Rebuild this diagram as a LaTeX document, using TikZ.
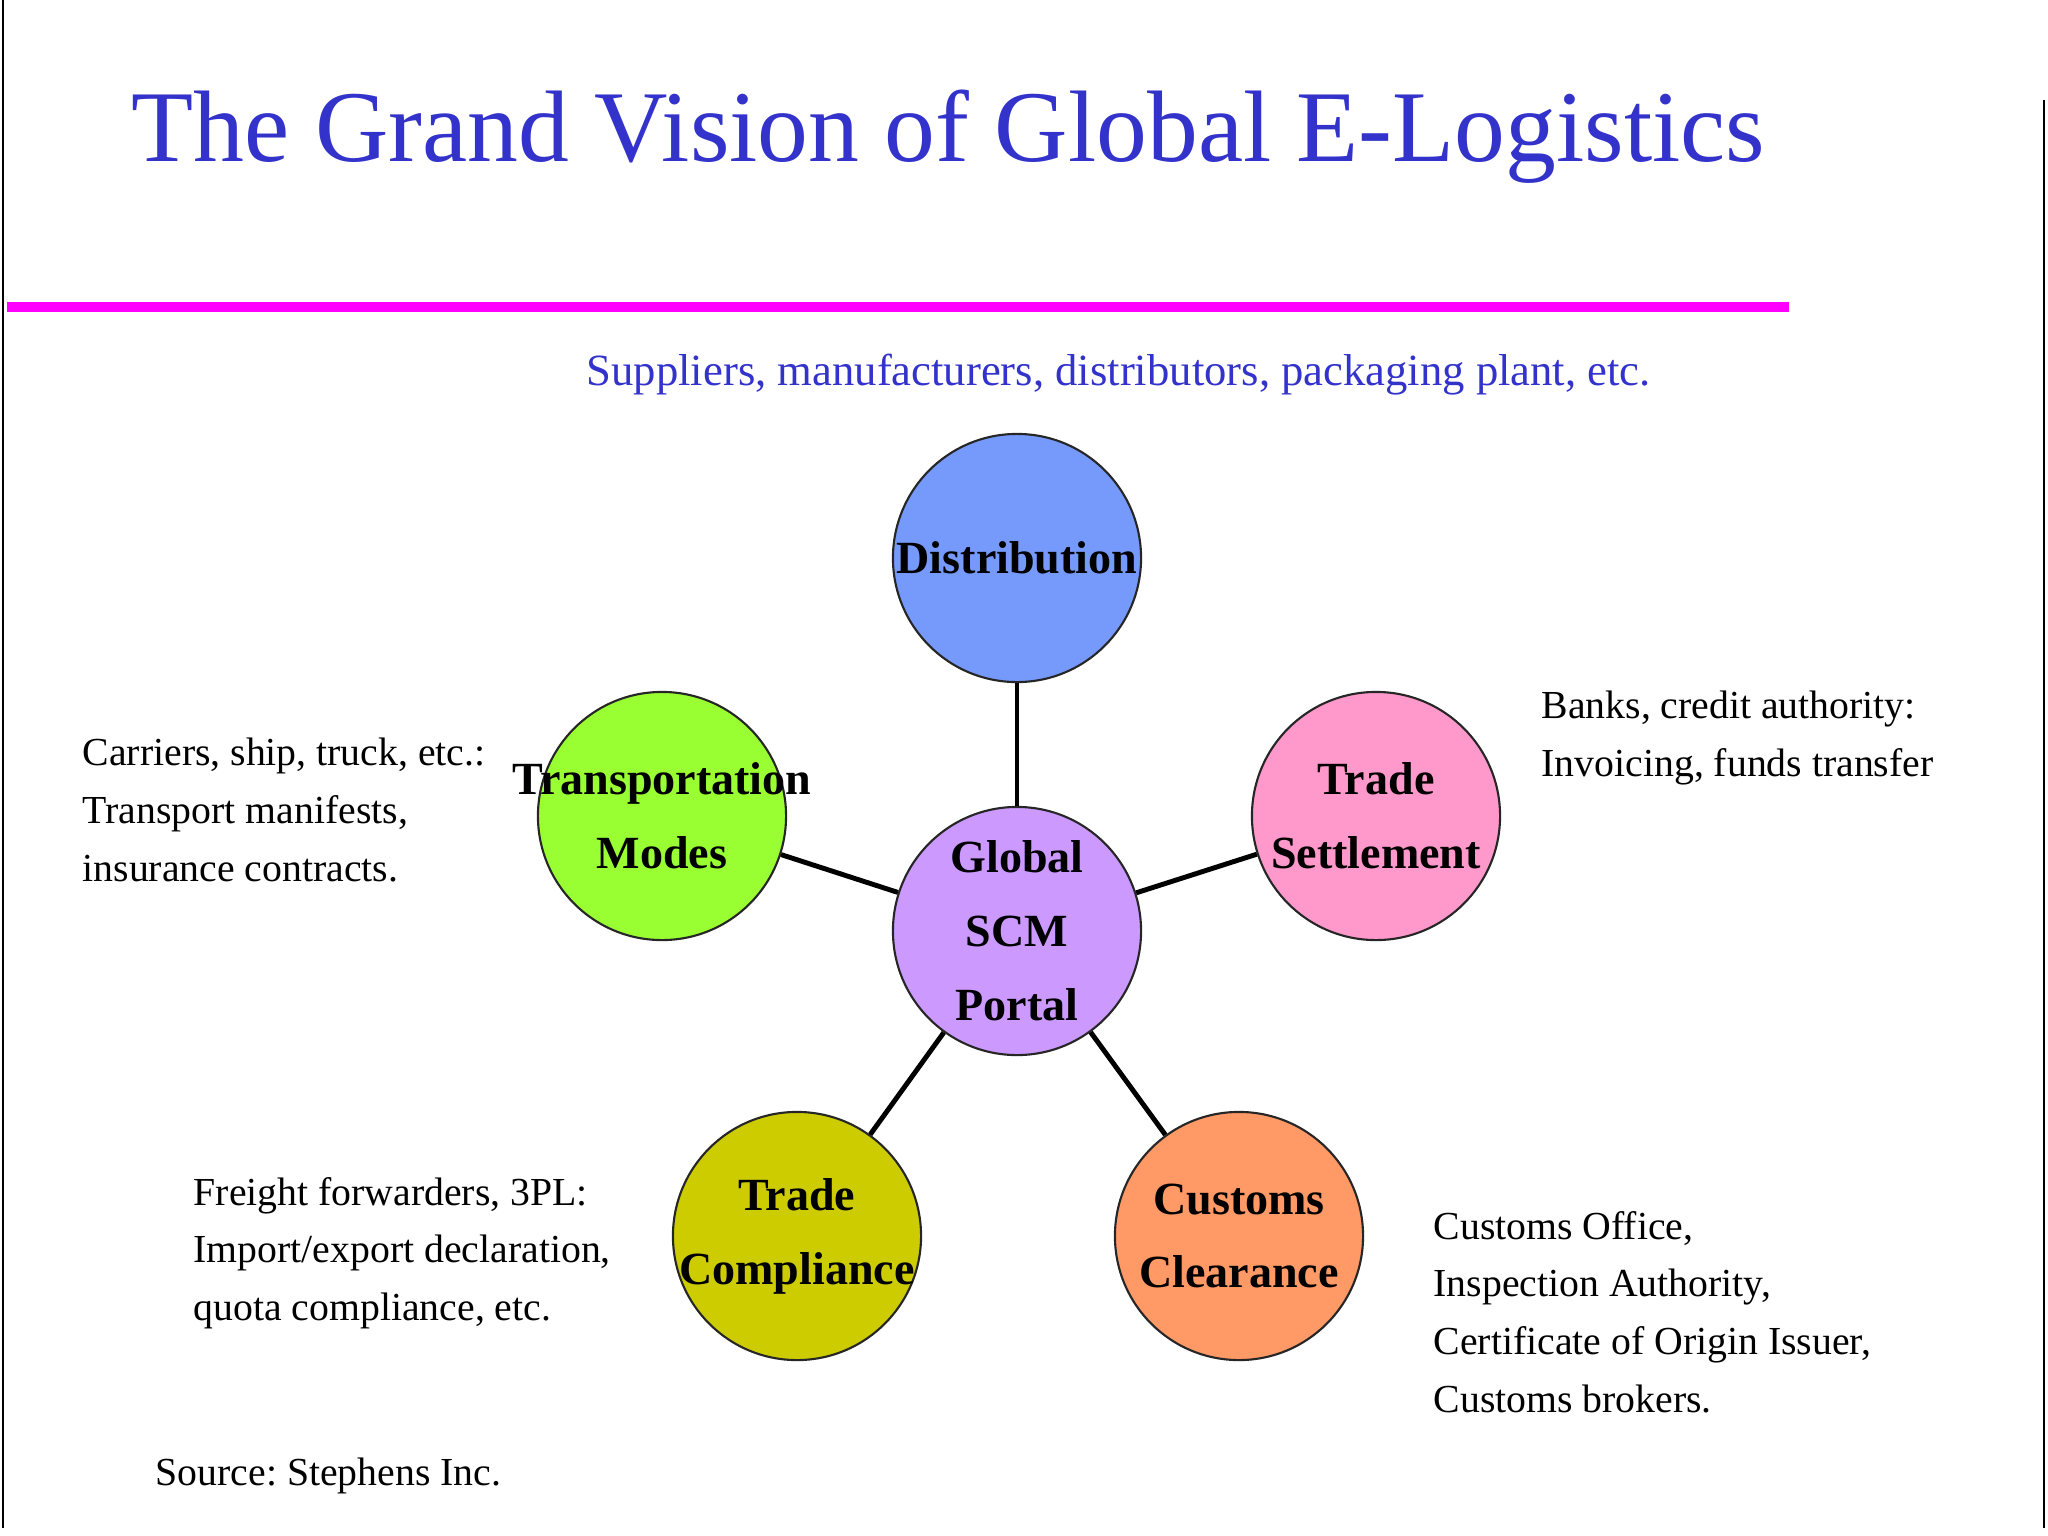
\documentclass[tikz,border=0pt]{standalone}
\usepackage{fontspec}
\setmainfont{Liberation Serif}
\usepackage{xcolor}
\usepackage{tikz}
\usetikzlibrary{positioning}
\frenchspacing
\definecolor{titleblue}{RGB}{51,51,204}
\definecolor{rulemagenta}{RGB}{255,0,255}
\definecolor{portalpurple}{RGB}{204,153,255}
\definecolor{distblue}{RGB}{118,153,252}
\definecolor{transgreen}{RGB}{153,255,51}
\definecolor{settlepink}{RGB}{255,153,204}
\definecolor{complyolive}{RGB}{204,204,0}
\definecolor{customsorange}{RGB}{255,153,102}
\tikzset{
    bubble/.style={circle, draw=black!85, line width=0.6pt, minimum size=2.48cm, inner sep=0pt},
    bubbletext/.style={align=center, inner sep=0pt, text=black, font=\fontsize{13.1}{21}\selectfont\bfseries},
    note/.style={anchor=west, align=left, inner sep=0pt, font=\fontsize{11.3}{16.4}\selectfont},
    heading/.style={anchor=base west, inner sep=0pt, text=titleblue},
    link/.style={line width=1.4pt, black}
}

\begin{document}
\begin{tikzpicture}[x=0.01cm, y=-0.01cm]
    \useasboundingbox (0,0) rectangle (2048,1536);
    % Page frame
    \draw[line width=0.6pt] (3,0) -- (3,1528);
    \draw[line width=0.6pt] (2044,100) -- (2044,1528);

    % Title and rule
    \node[heading, font=\fontsize{28.9}{34}\selectfont] (title) at (131,161) {The Grand Vision of Global E-Logistics};
    \draw[rulemagenta, line width=2.9pt] (7,307) -- (1789,307);
    \node[heading, font=\fontsize{12.7}{15}\selectfont] (partners) at (586,385) {Suppliers, manufacturers, distributors, packaging plant, etc.};

    % Portal and the five areas round it
    \node[bubble, fill=portalpurple, label={[bubbletext]center:Global\\SCM\\Portal}] (portal) at (1017,931) {};
    \node[bubble, fill=distblue, label={[bubbletext]center:Distribution}] (dist) at (1017,558) {};
    \node[bubble, fill=transgreen, label={[bubbletext]center:Transportation\\Modes}] (trans) at (662,816) {};
    \node[bubble, fill=settlepink, label={[bubbletext]center:Trade\\Settlement}] (settle) at (1376,816) {};
    \node[bubble, fill=complyolive, label={[bubbletext]center:Trade\\Compliance}] (comply) at (797,1236) {};
    \node[bubble, fill=customsorange, label={[bubbletext]center:Customs\\Clearance}] (customs) at (1239,1236) {};

    % Spokes
    \foreach \area in {dist, trans, settle, comply, customs}
        \draw[link] (portal) -- (\area);

    % Who takes part
    \node[note] (transNote) at (82,810) {Carriers, ship, truck, etc.:\\Transport manifests,\\insurance contracts.};
    \node[note] (settleNote) at (1541,738) {Banks, credit authority:\\Invoicing, funds transfer};
    \node[note] (complyNote) at (193,1253) {Freight forwarders, 3PL:\\Import/export declaration,\\quota compliance, etc.};
    \node[note] (customsNote) at (1433,1312) {Customs Office,\\Inspection Authority,\\Certificate of Origin Issuer,\\Customs brokers.};
    \node[note, anchor=base west] (source) at (155,1485) {Source: Stephens Inc.};
\end{tikzpicture}
\end{document}
